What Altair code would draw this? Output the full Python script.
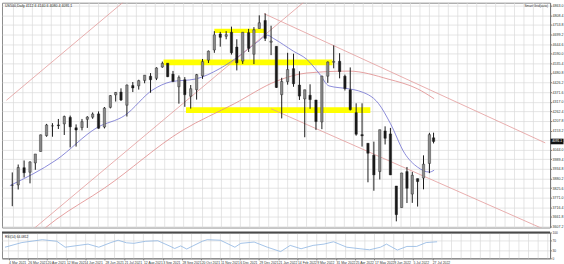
import altair as alt
import pandas as pd

# ---------------- data ----------------
HOLIDAYS = ["2021-04-02", "2021-05-31", "2021-07-05", "2021-09-06", "2021-11-25", "2021-12-24",
            "2022-01-17", "2022-02-21", "2022-04-15", "2022-05-30", "2022-06-20", "2022-07-04"]

WEEKS = ["2021-03-01", "2021-03-08", "2021-03-15", "2021-03-22", "2021-03-29", "2021-04-05", "2021-04-12",
         "2021-04-19", "2021-04-26", "2021-05-03", "2021-05-10", "2021-05-17", "2021-05-24", "2021-05-31",
         "2021-06-07", "2021-06-14", "2021-06-21", "2021-06-28", "2021-07-05", "2021-07-12", "2021-07-19",
         "2021-07-26", "2021-08-02", "2021-08-09", "2021-08-16", "2021-08-23", "2021-08-30", "2021-09-06",
         "2021-09-13", "2021-09-20", "2021-09-27", "2021-10-04", "2021-10-11", "2021-10-18", "2021-10-25",
         "2021-11-01", "2021-11-08", "2021-11-15", "2021-11-22", "2021-11-29", "2021-12-06", "2021-12-13",
         "2021-12-20", "2021-12-27", "2022-01-03", "2022-01-10", "2022-01-17", "2022-01-24", "2022-01-31",
         "2022-02-07", "2022-02-14", "2022-02-21", "2022-02-28", "2022-03-07", "2022-03-14", "2022-03-21",
         "2022-03-28", "2022-04-04", "2022-04-11", "2022-04-18", "2022-04-25", "2022-05-02", "2022-05-09",
         "2022-05-16", "2022-05-23", "2022-05-30", "2022-06-06", "2022-06-13", "2022-06-20", "2022-06-27",
         "2022-07-04", "2022-07-11", "2022-07-18", "2022-07-25", "2022-08-01"]
W_OPEN = [3842, 3844, 3942, 3916, 3969, 4034, 4124, 4179, 4185, 4191, 4228, 4169, 4170, 4217, 4229, 4248,
          4173, 4285, 4356, 4372, 4297, 4409, 4407, 4438, 4462, 4450, 4514, 4536, 4474, 4402, 4442, 4348,
          4385, 4464, 4553, 4611, 4702, 4689, 4712, 4628, 4548, 4710, 4587, 4733, 4779, 4655, 4632, 4357,
          4431, 4505, 4412, 4333, 4354, 4327, 4202, 4462, 4541, 4547, 4462, 4385, 4255, 4130, 4081, 4013,
          3920, 4151, 4134, 3838, 3715, 3920, 3792, 3880, 3883, 3966, 4112]
W_HIGH = [3915, 3960, 3983, 3978, 4020, 4130, 4191, 4195, 4219, 4238, 4238, 4188, 4219, 4235, 4256, 4262,
          4287, 4355, 4372, 4393, 4415, 4429, 4442, 4469, 4480, 4513, 4545, 4536, 4492, 4466, 4457, 4412,
          4475, 4560, 4608, 4718, 4714, 4718, 4744, 4672, 4713, 4731, 4741, 4808, 4819, 4749, 4632, 4453,
          4595, 4590, 4490, 4385, 4416, 4327, 4465, 4546, 4637, 4593, 4471, 4512, 4308, 4308, 4081, 4090,
          4158, 4177, 4168, 3838, 3913, 3946, 3918, 3880, 4012, 4140, 4141]
W_LOW = [3723, 3818, 3886, 3853, 3930, 4034, 4118, 4118, 4162, 4128, 4057, 4062, 4154, 4168, 4220, 4164,
         4165, 4279, 4318, 4321, 4233, 4372, 4386, 4422, 4368, 4440, 4510, 4457, 4428, 4306, 4288, 4278,
         4329, 4447, 4537, 4595, 4630, 4672, 4585, 4495, 4532, 4600, 4531, 4733, 4662, 4582, 4395, 4222,
         4414, 4402, 4327, 4115, 4277, 4157, 4161, 4424, 4507, 4450, 4381, 4267, 4124, 4062, 3859, 3811,
         3875, 4074, 3900, 3637, 3715, 3741, 3742, 3721, 3819, 3911, 4080]
W_CLOSE = [3842, 3943, 3913, 3975, 4020, 4129, 4185, 4180, 4181, 4233, 4174, 4156, 4204, 4230, 4247, 4166,
           4281, 4352, 4370, 4327, 4412, 4395, 4437, 4468, 4442, 4509, 4535, 4459, 4433, 4455, 4357, 4391,
           4471, 4545, 4605, 4697, 4683, 4698, 4595, 4538, 4712, 4620, 4726, 4766, 4677, 4662, 4398, 4432,
           4500, 4419, 4349, 4385, 4329, 4204, 4463, 4543, 4546, 4488, 4392, 4272, 4132, 4123, 4024, 3901,
           4158, 4109, 3901, 3675, 3912, 3825, 3899, 3863, 3962, 4130, 4091]

MA50_BAR = [0, 39, 74, 97, 121, 136, 157, 177, 196, 210, 218, 223, 240, 251, 262, 270, 287, 295, 312, 322,
            334, 345, 355, 359]
MA50_VAL = [3840, 3985, 4171, 4238, 4385, 4430, 4446, 4503, 4587, 4660, 4695, 4677, 4604, 4559, 4475, 4407,
            4390, 4379, 4306, 4193, 4024, 3945, 3917, 3928]
MA200_BAR = [0, 39, 80, 146, 190, 226, 251, 287, 320, 345, 359]
MA200_VAL = [3430, 3647, 3826, 4154, 4306, 4435, 4480, 4491, 4446, 4390, 4334]

RSI_BAR = [0, 14, 31, 43, 50, 69, 78, 88, 94, 101, 107, 117, 127, 138, 141, 146, 151, 157, 164, 168, 179,
           191, 196, 207, 218, 229, 237, 246, 256, 265, 273, 284, 295, 303, 312, 317, 326, 334, 342, 350, 359]
RSI_VAL = [43, 61, 72, 66, 43, 55, 43, 61, 70, 60, 58, 66, 68, 45, 38, 48, 36, 50, 66, 72, 70,
           43, 58, 63, 43, 26, 50, 37, 50, 55, 64, 43, 37, 33, 43, 55, 32, 46, 46, 61, 64]

LINE_ID = ["up_low", "up_low", "up_high", "up_high", "dn_high", "dn_high", "dn_low", "dn_low"]
LINE_BAR = [17, 254, -3, 101, 215, 453, 221, 460]
LINE_PRICE = [3577, 4913, 4325, 4912, 4818, 4083, 4277, 3568]

ZONE_B0 = [173, 130, 149]
ZONE_B1 = [216, 273, 305]
ZONE_TOP = [4732, 4557, 4285]
ZONE_BOT = [4707, 4524, 4253]

PRICE_TICKS = [4863.0, 4808.4, 4753.8, 4699.2, 4644.6, 4590.0, 4535.4, 4480.8, 4426.2, 4371.6, 4317.0,
               4262.4, 4207.8, 4153.2, 4098.6, 4044.0, 3989.4, 3934.8, 3880.2, 3825.6, 3771.0, 3716.4,
               3661.8, 3607.2]
LABEL_BARS = [3, 19, 35, 51, 67, 83, 99, 115, 131, 147, 163, 179, 195, 211, 227, 243, 259, 275, 291, 307,
              323, 339, 355]
LABEL_TEXT = ["4 Mar 2021", "26 Mar 2021", "20 Apr 2021", "12 May 2021", "4 Jun 2021", "28 Jun 2021",
              "21 Jul 2021", "12 Aug 2021", "3 Sep 2021", "28 Sep 2021", "20 Oct 2021", "11 Nov 2021",
              "6 Dec 2021", "29 Dec 2021", "21 Jan 2022", "14 Feb 2022", "9 Mar 2022", "31 Mar 2022",
              "25 Apr 2022", "17 May 2022", "9 Jun 2022", "5 Jul 2022", "27 Jul 2022"]
GRID_BARS = list(range(3, 453, 8))
RSI_TICKS = [0, 30, 70, 100]
LAST_PRICE = 4091.1

# ---------------- build tables ----------------
days = pd.bdate_range("2021-03-01", "2022-08-02")
days = days[~days.isin(pd.to_datetime(HOLIDAYS))]


def week_bar(mon):
    m = pd.Timestamp(mon)
    e = m + pd.Timedelta(days=7)
    ids = [i for i, d in enumerate(days) if m <= d < e]
    return sum(ids) / len(ids)


candles = pd.DataFrame({"bar": [week_bar(w) for w in WEEKS], "open": W_OPEN, "high": W_HIGH,
                        "low": W_LOW, "close": W_CLOSE})
candles["up"] = candles["close"] >= candles["open"]
ma50 = pd.DataFrame({"bar": MA50_BAR, "v": MA50_VAL})
ma200 = pd.DataFrame({"bar": MA200_BAR, "v": MA200_VAL})
rsi = pd.DataFrame({"bar": RSI_BAR, "v": RSI_VAL})
lines = pd.DataFrame({"line": LINE_ID, "bar": LINE_BAR, "p": LINE_PRICE})
zones = pd.DataFrame({"b0": ZONE_B0, "b1": ZONE_B1, "top": ZONE_TOP, "bot": ZONE_BOT})
grid = pd.DataFrame({"bar": GRID_BARS})
last = pd.DataFrame({"p": [LAST_PRICE], "t": [f"{LAST_PRICE:.1f}"]})

W, H1, H2 = 551, 226, 26
FONT = "Liberation Sans"
GRID_C = "#d9d9d9"
xs = alt.Scale(domain=[-2.5, 452.9], nice=False, zero=False)
ps = alt.Scale(domain=[3602, 4880], nice=False, zero=False)
rs = alt.Scale(domain=[0, 100], nice=False, zero=False)

yaxis = alt.Axis(values=PRICE_TICKS, format=".1f", orient="right", title=None, labelFontSize=3.6,
                 labelFont=FONT, labelColor="#333", tickSize=1.5, labelPadding=0.5, tickColor="#777",
                 domainColor="#777", gridColor=GRID_C, gridWidth=0.7, labelFlush=False,
                 labelOverlap=False)
X0 = alt.X("bar:Q", scale=xs, axis=None)

vgrid = alt.Chart(grid).mark_rule(color=GRID_C, strokeWidth=0.7).encode(x=X0)
zone_l = alt.Chart(zones).mark_rect(color="#ffff00").encode(
    x=alt.X("b0:Q", scale=xs, axis=None), x2="b1:Q",
    y=alt.Y("top:Q", scale=ps, axis=yaxis), y2="bot:Q")
ma200_l = alt.Chart(ma200).mark_line(color="#e08a8a", strokeWidth=0.8, clip=True,
                                     interpolate="monotone").encode(
    x=X0, y=alt.Y("v:Q", scale=ps, axis=yaxis))
ma50_l = alt.Chart(ma50).mark_line(color="#6f6fd0", strokeWidth=0.8, clip=True,
                                   interpolate="monotone").encode(
    x=X0, y=alt.Y("v:Q", scale=ps, axis=yaxis))
chan_l = alt.Chart(lines).mark_line(color="#e39a9a", strokeWidth=0.8, clip=True).encode(
    x=X0, y=alt.Y("p:Q", scale=ps, axis=yaxis), detail="line:N")
wick_l = alt.Chart(candles).mark_rule(color="#1a1a1a", strokeWidth=1).encode(
    x=X0, y=alt.Y("low:Q", scale=ps, axis=yaxis), y2="high:Q")
body_l = alt.Chart(candles).mark_bar(size=2.4, stroke="#1a1a1a", strokeWidth=0.4).encode(
    x=X0, y=alt.Y("open:Q", scale=ps, axis=yaxis), y2="close:Q",
    fill=alt.condition("datum.up", alt.value("#8a8a8a"), alt.value("#1a1a1a")))
head_l = alt.Chart(last).mark_text(align="left", baseline="top", fontSize=3.6, font=FONT,
                                    color="#222").encode(
    x=alt.value(3), y=alt.value(1.5), text=alt.value("US500,Daily  4112.6 4140.6 4080.4 4091.1"))
smart_l = alt.Chart(last).mark_text(align="right", baseline="top", fontSize=3.2, font=FONT,
                                     color="#333").encode(
    x=alt.value(W - 2), y=alt.value(1.5), text=alt.value("Smart Grid(auto)"))
box_l = alt.Chart(last).transform_calculate(a="datum.p + 16", b="datum.p - 16").mark_rect(
    color="#111").encode(x=alt.value(W + 0.5), x2=alt.value(W + 13.5),
                         y=alt.Y("a:Q", scale=ps, axis=yaxis), y2="b:Q")
boxt_l = alt.Chart(last).mark_text(align="center", baseline="middle", fontSize=3.4, font=FONT,
                                    color="white").encode(
    x=alt.value(W + 7), y=alt.Y("p:Q", scale=ps, axis=yaxis), text="t:N")

price = alt.layer(vgrid, zone_l, ma200_l, ma50_l, chan_l, wick_l, body_l, head_l, smart_l,
                  box_l, boxt_l).properties(width=W, height=H1)

lab_expr = ("[" + ",".join(f"'{s}'" for s in LABEL_TEXT) + "][indexof(["
            + ",".join(str(b) for b in LABEL_BARS) + "], datum.value)]")
xaxis = alt.Axis(values=LABEL_BARS, labelExpr=lab_expr, labelAlign="left", labelFontSize=3.4,
                 labelFont=FONT, labelColor="#333", tickSize=1.5, labelPadding=0.5, title=None,
                 grid=False, domainColor="#777", tickColor="#777", labelFlush=False,
                 labelOverlap=False, labelBound=False)
X1 = alt.X("bar:Q", scale=xs, axis=xaxis)
raxis = alt.Axis(values=RSI_TICKS, orient="right", title=None, labelFontSize=3.2, labelFont=FONT,
                 labelColor="#333", tickSize=1.5, labelPadding=0.5, gridColor=GRID_C,
                 gridWidth=0.7, domainColor="#777", labelFlush=False, labelOverlap=False)

vgrid2 = alt.Chart(grid).mark_rule(color=GRID_C, strokeWidth=0.7).encode(x=X1)
rsi_l = alt.Chart(rsi).mark_line(color="#8db4e2", strokeWidth=0.8).encode(
    x=X1, y=alt.Y("v:Q", scale=rs, axis=raxis))
sep_l = alt.Chart(last).mark_rule(color="#4a4a4a", strokeWidth=2).encode(y=alt.value(0))
rsit_l = alt.Chart(last).mark_text(align="left", baseline="top", fontSize=3.2, font=FONT,
                                    color="#222").encode(
    x=alt.value(3), y=alt.value(2.5), text=alt.value("RSI(14) 64.0812"))

rsi_panel = alt.layer(vgrid2, rsi_l, sep_l, rsit_l).properties(width=W, height=H2)

chart = alt.vconcat(price, rsi_panel, spacing=0).properties(
    padding={"left": 0, "top": 1, "right": 0, "bottom": 0},
    background="white",
).configure_view(stroke="#8a8a8a", strokeWidth=1).configure_concat(spacing=0)

chart.save("out.html", embed_options={"renderer": "svg", "actions": False})
